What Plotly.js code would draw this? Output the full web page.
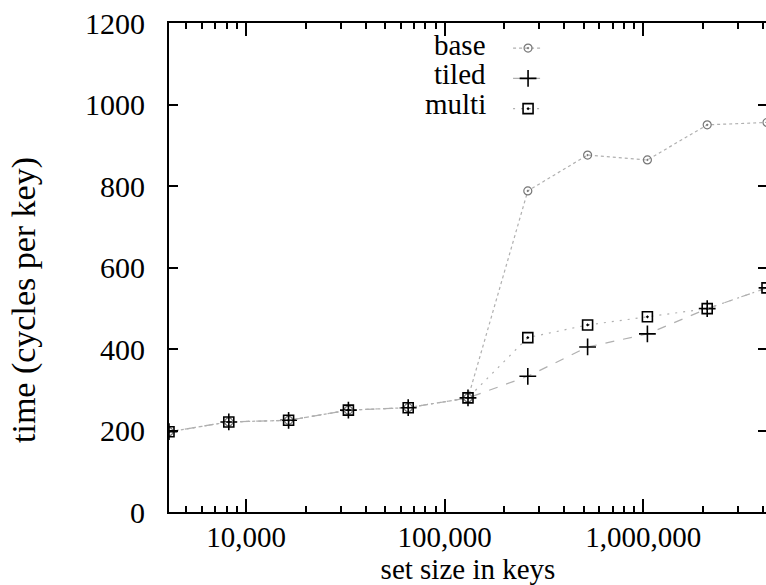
<!DOCTYPE html>
<html>
<head>
<meta charset="utf-8">
<script src="https://cdn.plot.ly/plotly-3.0.1.min.js"></script>
<style>
html, body { margin: 0; padding: 0; overflow: hidden; background: #fff; }
#chart { width: 770px; height: 585px; }
</style>
</head>
<body>
<div id="chart"></div>
<script>
// set sizes (keys)
const setSizes = [4096, 8192, 16384, 32768, 65536, 131072, 262144, 524288, 1048576, 2097152, 4194304];
// time in cycles per key
const baseTime  = [197, 221, 225, 250, 256, 280, 788, 876, 864, 950, 956];
const tiledTime = [197, 221, 225, 250, 256, 280, 333, 405, 437, 499, 550];
const multiTime = [197, 221, 225, 250, 256, 280, 428, 459, 479, 499, 550];
const seriesNames = ['base', 'tiled', 'multi'];
const xLabelAlias = { '1000000': '1e+06' };
const yTickStep = 200;
const yMax = 1200;
const xTitle = 'set size in keys';
const yTitle = 'time (cycles per key)';

const FONT = 'Liberation Serif';
const xRange = [Math.log10(setSizes[0]), Math.log10(setSizes[setSizes.length - 1])];

const traces = [
  {
    x: setSizes, y: baseTime, name: '', mode: 'lines+markers', type: 'scatter',
    line: { color: '#b0b0b0', width: 1.2, dash: 'dot' },
    marker: { symbol: 'circle-open-dot', size: 8, color: '#777', line: { color: '#777', width: 1.2 } }
  },
  {
    x: setSizes, y: tiledTime, name: '', mode: 'lines+markers', type: 'scatter',
    line: { color: '#b0b0b0', width: 1.2, dash: 'dash' },
    marker: { symbol: 'cross-thin-open', size: 12, color: '#000', line: { color: '#000', width: 1.6 } }
  },
  {
    x: setSizes, y: multiTime, name: '', mode: 'lines+markers', type: 'scatter',
    line: { color: '#b0b0b0', width: 1.2, dash: '2px,6px' },
    marker: { symbol: 'square-open-dot', size: 10, color: '#000', line: { color: '#000', width: 1.6 } }
  }
];

const labelY = [0.955, 0.896, 0.834];
const annotations = seriesNames.map((n, i) => ({
  text: n, xref: 'paper', yref: 'paper', x: 0.5334, y: labelY[i],
  xanchor: 'right', yanchor: 'middle', showarrow: false,
  font: { family: FONT, size: 29, color: '#000' }
}));
annotations.push({
  text: yTitle, xref: 'paper', yref: 'paper', x: -0.2425, y: 0.4335,
  xanchor: 'center', yanchor: 'middle', textangle: -90, showarrow: false,
  font: { family: FONT, size: 34, color: '#000' }
});

const layout = {
  width: 770, height: 585,
  margin: { l: 169, r: 3, t: 23, b: 73 },
  font: { family: FONT, size: 28 },
  showlegend: true,
  legend: {
    x: 0.567, y: 0.99, xanchor: 'left', yanchor: 'top',
    bgcolor: 'rgba(0,0,0,0)', font: { family: FONT, size: 21 },
    itemwidth: 30
  },
  xaxis: {
    type: 'log', range: xRange,
    tickmode: 'linear', dtick: 1,
    exponentformat: 'none', separatethousands: false, labelalias: xLabelAlias,
    ticks: 'inside', ticklen: 13, tickwidth: 2, tickcolor: '#000',
    minor: { dtick: 'D1', ticks: 'inside', ticklen: 6, tickwidth: 2, tickcolor: '#000', showgrid: false },
    showline: true, linecolor: '#000', linewidth: 2, mirror: 'ticks',
    showgrid: false, zeroline: false,
    ticklabelstandoff: -2,
    tickfont: { family: FONT, size: 29, color: '#000' },
    title: { text: xTitle, font: { family: FONT, size: 29, color: '#000' }, standoff: 2 }
  },
  yaxis: {
    range: [0, yMax],
    tickmode: 'linear', tick0: 0, dtick: yTickStep,
    ticks: 'inside', ticklen: 9, tickwidth: 2, tickcolor: '#000',
    showline: true, linecolor: '#000', linewidth: 2, mirror: 'ticks',
    showgrid: false, zeroline: false,
    ticklabelstandoff: 16,
    tickfont: { family: FONT, size: 30, color: '#000' }
  },
  annotations: annotations
};

Plotly.newPlot('chart', traces, layout, { displayModeBar: false });
</script>
</body>
</html>
